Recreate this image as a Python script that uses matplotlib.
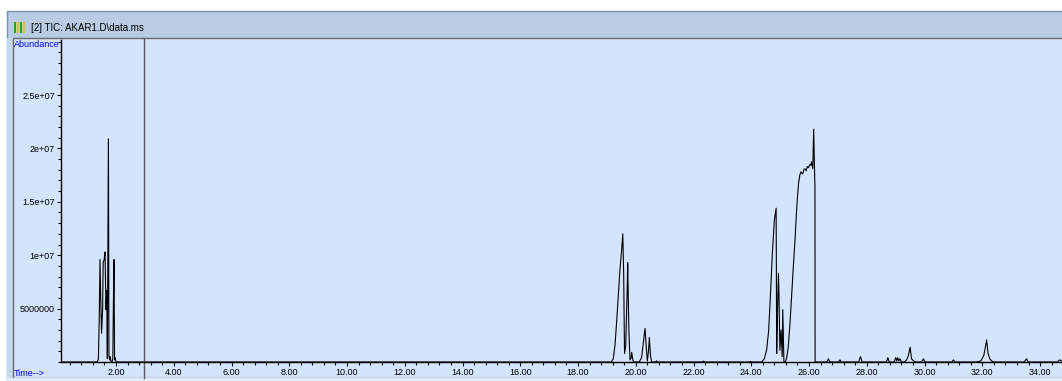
"""TIC chromatogram of AKAR1.D, drawn like the ChemStation data-analysis window."""
import matplotlib
matplotlib.use("Agg")
import matplotlib.pyplot as plt
from matplotlib.patches import Rectangle
from matplotlib.ticker import FixedLocator, MultipleLocator, FuncFormatter

W, H = 1062, 381

# retention time (min) and abundance, region by region
rt_early = [0.10, 1.35, 1.39, 1.42, 1.446, 1.47, 1.50, 1.535, 1.556, 1.59, 1.619,
            1.654, 1.678, 1.70, 1.725, 1.737, 1.755, 1.78, 1.80, 1.82, 1.86, 1.89,
            1.907, 1.93, 1.95, 1.97, 1.99, 2.02]
ab_early = [0, 0, 0.3e6, 4.2e6, 9.6e6, 6.0e6, 2.7e6, 4.9e6, 9.3e6, 9.6e6, 10.3e6,
            4.9e6, 6.7e6, 0.3e6, 15.4e6, 20.9e6, 0.6e6, 0.2e6, 0.5e6, 0.1e6, 0, 0.3e6,
            4.9e6, 9.6e6, 0.2e6, 0.4e6, 0.1e6, 0]

rt_mid = [19.15, 19.22, 19.28, 19.34, 19.40, 19.45, 19.51, 19.55, 19.58, 19.61,
          19.65, 19.70, 19.72, 19.76, 19.80, 19.84, 19.86, 19.89, 19.92, 20.12,
          20.20, 20.27, 20.32, 20.36, 20.40, 20.44, 20.47, 20.51, 20.55, 20.68,
          20.72, 20.76]
ab_mid = [0, 0.3e6, 1.6e6, 3.9e6, 6.4e6, 8.6e6, 10.5e6, 12.0e6, 8.3e6, 0.8e6,
          1.5e6, 6.5e6, 9.3e6, 3.0e6, 0.2e6, 0.4e6, 0.9e6, 0.3e6, 0, 0,
          0.4e6, 2.0e6, 3.15e6, 1.5e6, 0.1e6, 1.0e6, 2.3e6, 0.6e6, 0, 0,
          0.1e6, 0]

rt_main = [22.30, 22.35, 22.40, 23.94, 23.97, 24.00, 24.36, 24.45, 24.53, 24.60,
           24.65, 24.73, 24.80, 24.86, 24.88, 24.91, 24.94, 24.96, 24.99, 25.03,
           25.07, 25.09, 25.13, 25.17, 25.22, 25.28, 25.34, 25.40, 25.46, 25.52,
           25.56, 25.60, 25.64, 25.68, 25.72, 25.78, 25.82, 25.86, 25.90, 25.94,
           25.98, 26.03, 26.06, 26.09, 26.13, 26.16, 26.18, 26.20, 26.205, 26.21]
ab_main = [0, 0.08e6, 0, 0, 0.06e6, 0, 0, 0.3e6, 1.1e6, 2.9e6,
           5.5e6, 10.2e6, 13.3e6, 14.4e6, 0.8e6, 5.0e6, 8.3e6, 6.0e6, 1.1e6, 3.0e6,
           0.5e6, 4.9e6, 0, 0, 0.3e6, 1.4e6, 3.6e6, 6.4e6, 9.1e6, 11.7e6,
           13.8e6, 15.5e6, 16.8e6, 17.5e6, 17.8e6, 17.6e6, 18.0e6, 18.1e6, 17.9e6, 18.3e6,
           18.2e6, 18.5e6, 18.4e6, 18.75e6, 18.1e6, 21.8e6, 19.0e6, 16.7e6, 16.5e6, 0]

rt_late = [26.40, 26.62, 26.67, 26.72, 26.90, 27.02, 27.07, 27.12, 27.40, 27.72,
           27.78, 27.84, 28.50, 28.68, 28.73, 28.78, 28.95, 29.00, 29.04, 29.07,
           29.11, 29.15, 29.20, 29.30, 29.38, 29.44, 29.50, 29.55, 29.62, 29.70,
           29.90, 29.96, 30.02, 30.50, 30.95, 31.00, 31.05, 31.80, 31.95, 32.05,
           32.10, 32.15, 32.20, 32.26, 32.32, 32.40, 33.45, 33.50, 33.54, 33.58,
           34.60, 34.68, 34.80]
ab_late = [0, 0, 0.3e6, 0, 0, 0, 0.2e6, 0, 0, 0,
           0.5e6, 0, 0, 0, 0.4e6, 0, 0, 0.4e6, 0.1e6, 0.4e6,
           0.1e6, 0.3e6, 0, 0, 0.2e6, 0.6e6, 1.38e6, 0.3e6, 0.1e6, 0,
           0, 0.3e6, 0, 0, 0, 0.2e6, 0, 0, 0.1e6, 0.6e6,
           1.3e6, 2.06e6, 0.8e6, 0.3e6, 0.1e6, 0, 0, 0.2e6, 0.3e6, 0,
           0, 0.2e6, 0]

rt = rt_early + rt_mid + rt_main + rt_late
ab = ab_early + ab_mid + ab_main + ab_late

x_ticks = [2.0 * k for k in range(1, 18)]
y_ticks = [5e6, 1e7, 1.5e7, 2e7, 2.5e7]
y_labels = ["5000000", "1e+07", "1.5e+07", "2e+07", "2.5e+07"]
solvent_delay = 2.97
title = "[2] TIC: AKAR1.D\\data.ms"

PLOT_BG = "#d4e4fc"
BAR_BG = "#b9cce4"
BLUE = "#0000ff"
FONT = "Liberation Sans"


def box(fig, x0, y0, x1, y1, **kw):
    """Rectangle in image pixel coordinates (origin top-left), kept behind the axes."""
    fig.patches.append(Rectangle((x0 / W, 1 - y1 / H), (x1 - x0) / W, (y1 - y0) / H,
                                 transform=fig.transFigure, zorder=-5, **kw))


def main():
    fig = plt.figure(figsize=(W / 100, H / 100), dpi=100, facecolor="white")

    # window chrome
    box(fig, 7, 11, W + 2, H + 2, facecolor=BAR_BG, edgecolor="#7f8ea4", lw=1.0)
    box(fig, 7, 38, 13, 378, facecolor="#c6d8ee", edgecolor="none")
    box(fig, 13, 38, W + 2, 378, facecolor=PLOT_BG, edgecolor="#6a6a6a", lw=1.0)
    box(fig, 7, 378, W + 2, H + 2, facecolor="#e4ecf8", edgecolor="none")

    # little chromatogram icon + window title
    for dx, c in [(0, "#2aa02a"), (3, "#d8c800"), (6, "#2aa02a"), (9, "#d8c800")]:
        box(fig, 14 + dx, 22, 16 + dx, 33, facecolor=c, edgecolor="none")
    fig.text(31 / W, 1 - 28 / H, title, fontsize=7, family=FONT, va="center", ha="left")

    ax = fig.add_axes([61 / W, 19 / H, (W - 61) / W, 322 / H])
    ax.set_facecolor("none")
    ax.plot(rt, ab, color="black", lw=0.8)

    ax.set_xlim(0.095, 34.76)
    ax.set_ylim(0, 3.015e7)
    for s in ("top", "right"):
        ax.spines[s].set_visible(False)
    for s in ("left", "bottom"):
        ax.spines[s].set_linewidth(1.0)

    ax.xaxis.set_major_locator(FixedLocator(x_ticks))
    ax.xaxis.set_major_formatter(FuncFormatter(lambda v, p: f"{v:.2f}"))
    ax.xaxis.set_minor_locator(MultipleLocator(0.4))
    ax.yaxis.set_major_locator(FixedLocator(y_ticks))
    ax.set_yticklabels(y_labels)
    ax.yaxis.set_minor_locator(MultipleLocator(1e6))
    ax.tick_params(axis="both", which="major", length=3, width=0.8, pad=1.5,
                   labelsize=6.5, direction="out")
    ax.tick_params(axis="both", which="minor", length=2, width=0.8, direction="out")
    for lab in ax.get_xticklabels() + ax.get_yticklabels():
        lab.set_fontfamily(FONT)

    # solvent delay marker spans the whole panel
    ax.axvline(solvent_delay, ymin=-0.05, ymax=1.006, color="#5a5a5a", lw=1.0, clip_on=False)

    fig.text(14 / W, 1 - 40 / H, "Abundance", color=BLUE, fontsize=6.5, family=FONT,
             va="top", ha="left")
    fig.text(14 / W, 1 - 373 / H, "Time-->", color=BLUE, fontsize=6.5, family=FONT,
             va="center", ha="left")

    fig.savefig("out.png", dpi=100, facecolor=fig.get_facecolor())


if __name__ == "__main__":
    main()
